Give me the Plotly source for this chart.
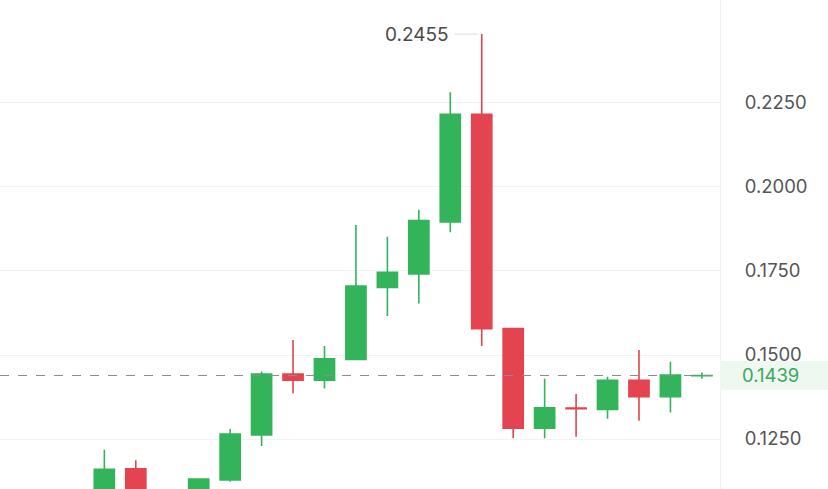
import plotly.graph_objects as go

# candle index (consecutive periods)
idx = list(range(20))
opens = [0.1050, 0.1161, 0.1060, 0.1050, 0.1128, 0.1262, 0.1443, 0.1425, 0.1487, 0.1701,
         0.1741, 0.1896, 0.2216, 0.1579, 0.1282, 0.1342, 0.1338, 0.1425, 0.1376, 0.14385]
highs = [0.1218, 0.1187, 0.1095, 0.1131, 0.1280, 0.1451, 0.1545, 0.1527, 0.1887, 0.1852,
         0.1932, 0.2282, 0.2455, 0.1580, 0.1429, 0.1384, 0.1435, 0.1515, 0.1480, 0.1448]
lows = [0.1020, 0.1030, 0.1010, 0.1030, 0.1123, 0.1229, 0.1386, 0.1400, 0.1487, 0.1616,
        0.1653, 0.1865, 0.1527, 0.1252, 0.1252, 0.1257, 0.1310, 0.1304, 0.1329, 0.1429]
closes = [0.1160, 0.1060, 0.1050, 0.1131, 0.1265, 0.1443, 0.1425, 0.1489, 0.1705, 0.1746,
          0.1900, 0.2216, 0.1578, 0.1282, 0.1343, 0.1340, 0.1425, 0.1376, 0.1440, 0.1439]
tick_vals = [0.125, 0.150, 0.175, 0.200, 0.225]
tick_text = ["0.1250", "0.1500", "0.1750", "0.2000", "0.2250"]
last_price = 0.1439

GREEN = "#33b45b"
RED = "#e4444f"
FONT = "Inter, Roboto, sans-serif"

fig = go.Figure()
fig.add_trace(go.Candlestick(
    x=idx, open=opens, high=highs, low=lows, close=closes,
    increasing=dict(line=dict(color=GREEN, width=1.6), fillcolor=GREEN),
    decreasing=dict(line=dict(color=RED, width=1.6), fillcolor=RED),
    whiskerwidth=0, hoverinfo="skip", showlegend=False,
))

# last price dashed line
fig.add_shape(type="line", xref="paper", x0=0, x1=1, yref="y", y0=last_price, y1=last_price,
              line=dict(color="#8c8c8c", width=1, dash="dash"), layer="above")

# last price label box
px_per_unit = 3360.0
fig.add_shape(type="rect", xref="paper", x0=1.0, x1=828 / 720, yref="y",
              y0=last_price - 14.5 / px_per_unit, y1=last_price + 14.5 / px_per_unit,
              fillcolor="#eef8f1", line=dict(width=0), layer="above")
fig.add_annotation(xref="paper", x=1.0, xanchor="left", xshift=20, yref="y", y=last_price,
                   text=f"{last_price:.4f}", showarrow=False,
                   font=dict(family=FONT, size=18.5, color="#3aa95b"))

# max high annotation
imax = max(range(len(highs)), key=lambda i: highs[i])
hmax = highs[imax]
fig.add_shape(type="line", xref="x", x0=imax - 27 / 31.45, x1=imax - 4 / 31.45,
              yref="y", y0=hmax, y1=hmax, line=dict(color="#dcdcdc", width=1))
fig.add_annotation(xref="x", x=imax, xanchor="right", xshift=-31, yref="y", y=hmax,
                   text=f"{hmax:.4f}", showarrow=False,
                   font=dict(family=FONT, size=19, color="#4a4a4a"))

fig.update_layout(
    width=828, height=489,
    margin=dict(l=0, r=108, t=0, b=0),
    paper_bgcolor="white", plot_bgcolor="white",
    boxgap=0.36, boxgroupgap=0,
    showlegend=False,
    xaxis=dict(range=[-3.318, 19.576], visible=False, rangeslider=dict(visible=False),
               showgrid=False, zeroline=False),
    yaxis=dict(range=[0.11012, 0.25565], side="right", tickvals=tick_vals, ticktext=tick_text,
               showgrid=True, gridcolor="#f2f2f2", gridwidth=1, zeroline=False,
               showline=True, linecolor="#f2f2f2", linewidth=1,
               ticks="", ticklabelstandoff=20,
               tickfont=dict(family=FONT, size=18.5, color="#555555")),
)

fig.write_html("out.html", config={"displayModeBar": False},
               post_script="document.body.style.margin='0';document.body.style.overflow='hidden';")
